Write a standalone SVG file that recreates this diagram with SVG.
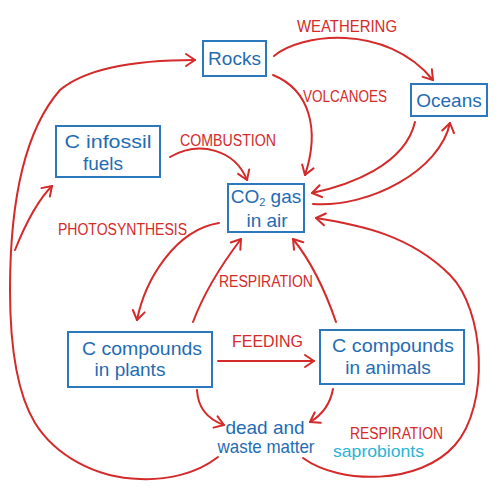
<svg xmlns="http://www.w3.org/2000/svg" width="500" height="501" viewBox="0 0 500 501">
<defs>
<marker id="ah" markerUnits="userSpaceOnUse" markerWidth="20" markerHeight="20" viewBox="-12 -10 14 20" refX="0" refY="0" orient="auto">
<path d="M-9,-6 L0,0 L-9,6" fill="none" stroke="#d42a2a" stroke-width="2" stroke-linecap="round" stroke-linejoin="round"/>
</marker>
<style>
.box{fill:#fff;stroke:#2b78bd;stroke-width:2}
.bt{font-family:"Liberation Sans","DejaVu Sans",sans-serif;font-size:19px;fill:#1f6cb3}
.rl{font-family:"Liberation Sans","DejaVu Sans",sans-serif;font-size:16px;fill:#d42a2a}
.cn{fill:none;stroke:#d42a2a;stroke-width:2;stroke-linecap:round;marker-end:url(#ah)}
</style>
</defs>
<rect width="500" height="501" fill="#fff"/>
<g id="connectors">
<path class="cn" d="M274,56 C300,34 385,22 433,80"/>
<path class="cn" d="M273,75 C310,90 320,130 305,175"/>
<path class="cn" d="M415,122 C405,165 350,185 312,193"/>
<path class="cn" d="M313,204 C370,208 440,170 450,123"/>
<path class="cn" d="M170,157 C200,140 235,150 247,180"/>
<path class="cn" d="M219,223 C175,230 145,280 137,320"/>
<path class="cn" d="M193,322 C205,290 225,260 241,239"/>
<path class="cn" d="M336,322 C325,290 310,260 293,239"/>
<path class="cn" d="M218,361 L314,361"/>
<path class="cn" d="M197,390 C198,410 210,420 224,425"/>
<path class="cn" d="M333,389 C330,405 322,415 310,422"/>
<path class="cn" d="M303,458 C340,485 420,485 455,445 C490,405 485,310 450,275 C410,235 360,225 316,218"/>
<path class="cn" d="M218,457 C195,475 165,480 140,479 C95,478 55,455 35,423 C15,390 10,340 10,290 C10,200 25,130 60,90 C90,65 150,60 195,60"/>
<path class="cn" d="M15,250 C25,225 38,200 52,186"/>
</g>
<g id="labels">
<text class="rl" x="297" y="32" textLength="100" lengthAdjust="spacingAndGlyphs">WEATHERING</text>
<text class="rl" x="303" y="102" textLength="84" lengthAdjust="spacingAndGlyphs">VOLCANOES</text>
<text class="rl" x="180" y="146" textLength="96" lengthAdjust="spacingAndGlyphs">COMBUSTION</text>
<text class="rl" x="58" y="235" textLength="129" lengthAdjust="spacingAndGlyphs">PHOTOSYNTHESIS</text>
<text class="rl" x="219" y="287" textLength="94" lengthAdjust="spacingAndGlyphs">RESPIRATION</text>
<text class="rl" x="232" y="347" textLength="71" lengthAdjust="spacingAndGlyphs">FEEDING</text>
<text class="rl" x="350" y="439" textLength="93" lengthAdjust="spacingAndGlyphs">RESPIRATION</text>
<text x="333" y="457" font-family="Liberation Sans, DejaVu Sans, sans-serif" font-size="17" fill="#2bb3d6" textLength="91" lengthAdjust="spacingAndGlyphs">saprobionts</text>
</g>
<g id="rocks">
<rect class="box" x="203" y="41" width="63" height="35"/>
<text class="bt" x="234.5" y="65" text-anchor="middle" font-size="20">Rocks</text>
</g>
<g id="oceans">
<rect class="box" x="411" y="84" width="76" height="32"/>
<text class="bt" x="449" y="107" text-anchor="middle">Oceans</text>
</g>
<g id="fossil">
<rect class="box" x="56" y="126" width="104" height="51"/>
<text class="bt" x="108" y="148" text-anchor="middle" textLength="87" lengthAdjust="spacingAndGlyphs">C infossil</text>
<text class="bt" x="103" y="170" text-anchor="middle">fuels</text>
</g>
<g id="co2">
<rect class="box" x="228" y="184" width="76" height="48"/>
<text class="bt" x="266" y="203" text-anchor="middle" font-size="18">CO<tspan font-size="11" dy="3">2</tspan><tspan dy="-3"> gas</tspan></text>
<text class="bt" x="267" y="227" text-anchor="middle" font-size="18">in air</text>
</g>
<g id="plants">
<rect class="box" x="68" y="332" width="144" height="55"/>
<text class="bt" x="142" y="355" text-anchor="middle" textLength="120" lengthAdjust="spacingAndGlyphs">C compounds</text>
<text class="bt" x="130" y="376" text-anchor="middle">in plants</text>
</g>
<g id="animals">
<rect class="box" x="320" y="330" width="144" height="54"/>
<text class="bt" x="393" y="352" text-anchor="middle" textLength="122" lengthAdjust="spacingAndGlyphs">C compounds</text>
<text class="bt" x="388" y="374" text-anchor="middle">in animals</text>
</g>
<g id="dead">
<text class="bt" x="265" y="434" text-anchor="middle" font-size="16">dead and</text>
<text class="bt" x="266" y="453" text-anchor="middle" font-size="16" textLength="97" lengthAdjust="spacingAndGlyphs">waste matter</text>
</g>
</svg>
